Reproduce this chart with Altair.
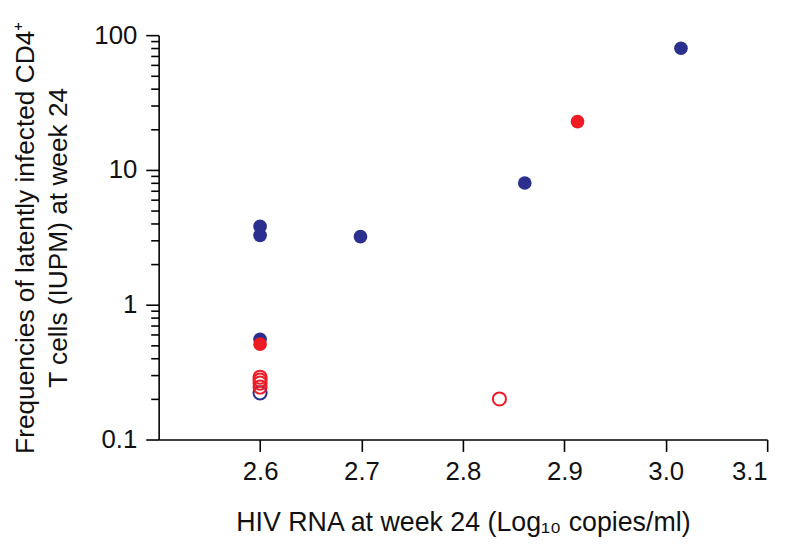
import altair as alt
import pandas as pd

# data
hiv_rna = [2.6, 2.6, 2.6, 2.699, 2.861, 3.015, 2.6, 2.6, 2.913,
           2.6, 2.6, 2.6, 2.6, 2.836]
iupm = [3.81, 3.27, 0.553, 3.2, 8.0, 80.0, 0.222, 0.51, 22.8,
        0.29, 0.276, 0.262, 0.245, 0.2]
group = ["A", "A", "A", "A", "A", "A", "A", "B", "B",
         "B", "B", "B", "B", "B"]
filled = [True, True, True, True, True, True, False, True, True,
          False, False, False, False, False]

x_ticks = [2.6, 2.7, 2.8, 2.9, 3.0, 3.1]
y_major = [0.1, 1, 10, 100]
y_minor = [0.2, 0.3, 0.4, 0.5, 0.6, 0.7, 0.8, 0.9,
           2, 3, 4, 5, 6, 7, 8, 9, 20, 30, 40, 50, 60, 70, 80, 90]

df = pd.DataFrame({"x": hiv_rna, "y": iupm, "g": group, "filled": filled})

FONT = "Liberation Sans"
color_scale = alt.Scale(domain=["A", "B"], range=["#2b2f8e", "#ed1c24"])

major_test = " || ".join(f"datum.value == {v}" for v in y_major)

x_enc = alt.X("x:Q",
              scale=alt.Scale(domain=[2.5, 3.1], nice=False, zero=False),
              axis=alt.Axis(values=x_ticks, format=".1f", grid=False,
                            title="HIV RNA at week 24 (Log₁₀ copies/ml)",
                            tickSize=12, labelPadding=7, titlePadding=26,
                            labelFontSize=26, titleFontSize=27,
                            titleFontWeight="normal"))
y_enc = alt.Y("y:Q",
              scale=alt.Scale(type="log", domain=[0.1, 100], nice=False),
              axis=alt.Axis(values=sorted(y_major + y_minor), grid=False,
                            format="~g",
                            labelExpr=f"({major_test}) ? datum.label : ''",
                            tickSize={"condition": {"test": major_test, "value": 13}, "value": 8},
                            title=["Frequencies of latently infected CD4⁺",
                                   "T cells (IUPM) at week 24"],
                            titleLineHeight=33,
                            labelPadding=9, titlePadding=22,
                            labelFontSize=26, titleFontSize=26.5,
                            titleFontWeight="normal"))

base = alt.Chart(df)
filled_pts = base.transform_filter("datum.filled").mark_circle(
    size=190, opacity=1).encode(
    x=x_enc, y=y_enc,
    color=alt.Color("g:N", scale=color_scale, legend=None))
open_pts = base.transform_filter("!datum.filled").mark_point(
    shape="circle", size=175, filled=False, strokeWidth=2, opacity=1).encode(
    x=x_enc, y=y_enc,
    color=alt.Color("g:N", scale=color_scale, legend=None))

chart = alt.layer(filled_pts, open_pts).properties(
    width=614, height=408,
    autosize=alt.AutoSizeParams(type="none"),
    padding={"left": 152, "top": 25, "right": 20, "bottom": 100},
).configure_view(stroke=None).configure_axis(
    domainColor="black", tickColor="black", domainWidth=1.6, tickWidth=1.6,
    labelColor="#111", titleColor="#111", labelFont=FONT, titleFont=FONT,
)

chart.save("out.html", embed_options={"renderer": "svg", "actions": False})
